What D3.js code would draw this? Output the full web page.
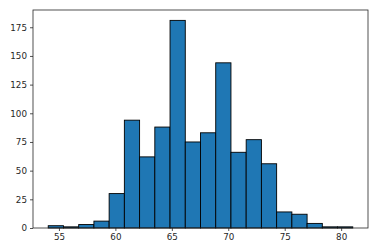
<!DOCTYPE html>
<html>
<head>
<meta charset="utf-8">
<script src="https://cdn.jsdelivr.net/npm/d3@7"></script>
<style>
  body { margin: 0; background: #fff; }
  svg { display: block; }
  .axis text { font-family: "DejaVu Sans", sans-serif; font-size: 8.75px; fill: #262626; }
  .axis path, .axis line { stroke: #262626; stroke-width: 0.8; }
</style>
</head>
<body>
<div id="chart"></div>
<script>
// histogram counts, 20 equal bins between binLow and binHigh
const counts = [2, 1, 3, 6, 30, 94, 62, 88, 181, 75, 83, 144, 66, 77, 56, 14, 12, 4, 1, 1];
const binLow = 54.05, binHigh = 81.03;
const xTicks = [55, 60, 65, 70, 75, 80];
const yTicks = [0, 25, 50, 75, 100, 125, 150, 175];

const w = 378, h = 252;
const margin = { top: 10, right: 10, bottom: 24, left: 33 };

const svg = d3.select("#chart").append("svg")
  .attr("width", w)
  .attr("height", h);

const binW = (binHigh - binLow) / counts.length;
const bins = counts.map((c, i) => ({ x0: binLow + i * binW, x1: binLow + (i + 1) * binW, n: c }));

const pad = (binHigh - binLow) * 0.05;
const x = d3.scaleLinear()
  .domain([binLow - pad, binHigh + pad])
  .range([margin.left, w - margin.right]);

const y = d3.scaleLinear()
  .domain([0, d3.max(counts) * 1.05])
  .range([h - margin.bottom, margin.top]);

svg.selectAll(".bar")
  .data(bins)
  .join("rect")
  .attr("class", "bar")
  .attr("x", d => x(d.x0))
  .attr("y", d => y(d.n))
  .attr("width", d => x(d.x1) - x(d.x0))
  .attr("height", d => y(0) - y(d.n))
  .attr("fill", "#1f77b4")
  .attr("stroke", "black")
  .attr("stroke-width", 0.9);

svg.append("g")
  .attr("class", "axis")
  .attr("transform", "translate(0," + (h - margin.bottom) + ")")
  .call(d3.axisBottom(x).tickValues(xTicks).tickSize(3).tickPadding(3).tickSizeOuter(0))
  .call(g => g.select(".domain").remove());

svg.append("g")
  .attr("class", "axis")
  .attr("transform", "translate(" + margin.left + ",0)")
  .call(d3.axisLeft(y).tickValues(yTicks).tickSize(3).tickPadding(3).tickSizeOuter(0))
  .call(g => g.select(".domain").remove());

// frame
svg.append("rect")
  .attr("x", margin.left)
  .attr("y", margin.top)
  .attr("width", w - margin.left - margin.right)
  .attr("height", h - margin.top - margin.bottom)
  .attr("fill", "none")
  .attr("stroke", "#262626")
  .attr("stroke-width", 0.8);
</script>
</body>
</html>
